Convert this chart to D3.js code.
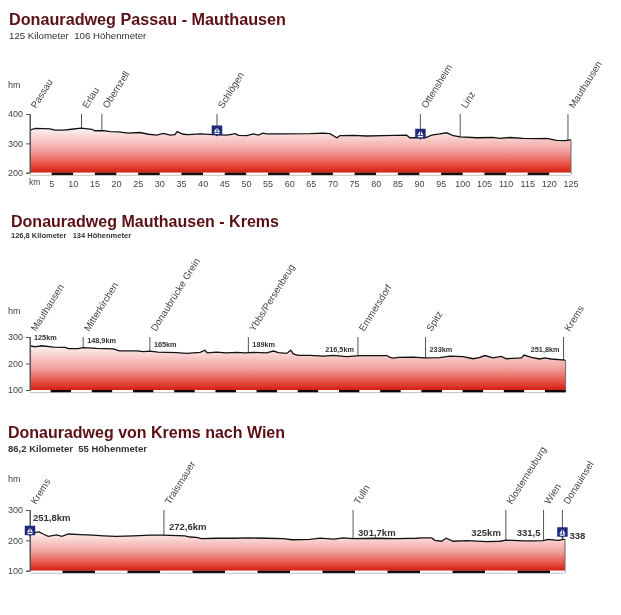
<!DOCTYPE html>
<html>
<head>
<meta charset="utf-8">
<script src="https://cdn.jsdelivr.net/npm/d3@7"></script>
<style>
	html, body { margin: 0; padding: 0; background: #fff; }
	text { font-family: "Liberation Sans", Arial, sans-serif; }
	#svg_profiles { filter: blur(0.3px); }
</style>
</head>
<body>
<svg id="svg_profiles" width="621" height="615"></svg>
<script>
// Passau - Mauthausen
var passauKm = [0, 1.2, 3.1, 4.6, 5.8, 7.7, 9.6, 11.8, 14.3, 15, 17, 18.5, 20.4, 22.7, 25.4, 27.4, 29.3, 30.8, 32.4, 33.5, 34, 35.4, 36.6, 39.3, 42.4, 45.5, 47.4, 48.2, 50.1, 51.6, 52.8, 53.8, 54.7, 59.3, 64.7, 67.8, 69.3, 70.9, 71.6, 74.7, 77.8, 81.6, 87, 87.8, 91.3, 92.8, 94.7, 96.3, 97.8, 99.4, 103.2, 107, 108.6, 110.9, 114, 117.1, 119.4, 121.7, 123.6, 125];
var passauHm = [345, 351, 350, 349, 345, 345, 348, 352, 348, 343, 343, 340, 339, 335, 337, 331, 328, 334, 328, 330, 340, 331, 330, 332, 330, 328, 333, 327, 326, 332, 328, 335, 332, 332, 333, 335, 333, 319, 326, 327, 325, 326, 328, 319, 319, 328, 332, 336, 326, 322, 319, 320, 317, 320, 317, 316, 317, 310, 309, 312];
var passauStops = ["Passau", "Erlau", "Obernzell", "Schlögen", "Ottensheim", "Linz", "Mauthausen"];
var passauStopKm = [0, 11.9, 16.6, 43.2, 90.2, 99.4, 124.3];
var passauBoatKm = [43.2, 90.2];
var passauBoatHm = [343, 332];
var passauTicks = [5, 10, 15, 20, 25, 30, 35, 40, 45, 50, 55, 60, 65, 70, 75, 80, 85, 90, 95, 100, 105, 110, 115, 120, 125];

// Mauthausen - Krems
var kremsKm = [125, 126.2, 127.8, 130.7, 133.5, 134.3, 136.7, 137.9, 141.2, 145.2, 146.7, 150.9, 152.5, 154.1, 156.1, 160.6, 163, 166.3, 167.5, 168, 170.3, 172.7, 175.2, 177.2, 179.2, 182.4, 184.1, 185.3, 187.3, 188.3, 188.9, 190.1, 193, 196.2, 198.7, 201.9, 205.1, 211.6, 212.4, 213.2, 214.4, 218, 220.8, 224.4, 226.9, 230.1, 232.6, 234.2, 235.4, 237.4, 239.4, 240.6, 244.3, 244.9, 246.7, 248.7, 249.9, 251.5, 254.9];
var kremsHm = [267, 263, 267, 262, 261, 256, 256, 260, 257, 255, 248, 248, 245, 247, 243, 241, 238, 242, 250, 240, 243, 240, 242, 240, 242, 240, 247, 241, 238, 250, 236, 231, 231, 228, 231, 226, 230, 230, 223, 220, 223, 224, 221, 222, 228, 226, 218, 223, 230, 221, 227, 218, 221, 232, 223, 217, 221, 217, 213];
var kremsStops = ["Mauthausen", "Mitterkirchen", "Donaubrücke Grein", "Ybbs/Persenbeug", "Emmersdorf", "Spitz", "Krems"];
var kremsStopKm = [125, 137.9, 154.1, 178, 204.6, 221, 254.5];
var kremsMarks = ["125km", "148,9km", "165km", "189km", "216,5km", "233km", "251,8km"];
var kremsMarkHm = [289, 277, 262, 262, 243, 243, 243];
var kremsMarkSide = ["start", "start", "start", "start", "end", "start", "end"];

// Krems - Wien
var wienKm = [0, 0.8, 1.4, 2.1, 2.8, 4.1, 4.9, 5.9, 7.7, 9.7, 11.3, 13.3, 15.9, 18.5, 20.4, 23.8, 24.6, 25.6, 26.4, 28.7, 31.3, 33.8, 36.4, 39, 40.3, 43.1, 44.6, 46.7, 48.2, 49.7, 53.3, 56.4, 59.5, 60.2, 61.8, 62.3, 63.3, 64, 65.1, 67.2, 70.3, 72.3, 73.3, 75.9, 77.4, 79, 79.6, 81.3, 82.1, 82.3];
var wienHm = [226, 226, 228, 220, 213, 218, 213, 221, 219, 217, 215, 213, 215, 217, 217, 215, 211, 210, 206, 207, 207, 208, 207, 206, 202, 203, 207, 204, 208, 206, 207, 206, 207, 208, 208, 200, 197, 207, 197, 199, 196, 197, 201, 198, 198, 199, 203, 200, 203, 203];
var wienStops = ["Krems", "Traismauer", "Tulln", "Klosterneuburg", "Wien", "Donauinsel"];
var wienStopKm = [0, 20.6, 49.7, 73.2, 79, 81.9];
var wienMarks = ["251,8km", "272,6km", "301,7km", "325km", "331,5", "338"];
var wienMarkHm = [264, 233, 214, 214, 214, 205];
var wienMarkSide = ["start", "start", "start", "end", "end", "start"];
var wienBoatKm = [0, 81.9];
var wienBoatHm = [231, 226];

var svg = d3.select("#svg_profiles");

function renderProfile(o) {
	var g = svg.append("g").attr("class", "profile");
	var xScale = d3.scaleLinear().domain(o.kmDomain).range(o.xRange);
	var yScale = d3.scaleLinear().domain(o.hmDomain).range(o.yRange);
	var base = o.yRange[0], top = o.yRange[1];

	g.append("text").attr("x", o.titleX).attr("y", o.titleY)
		.attr("font-size", 16).attr("font-weight", "bold").attr("fill", "#5a1014")
		.attr("textLength", o.titleLen).attr("lengthAdjust", "spacingAndGlyphs")
		.text(o.title);
	g.append("text").attr("x", o.titleX).attr("y", o.subY)
		.attr("font-size", o.subSize).attr("font-weight", o.subWeight).attr("fill", "#333")
		.style("white-space", "pre")
		.text(o.subtitle);
	g.append("text").attr("x", 8).attr("y", o.hmY)
		.attr("font-size", 9).attr("fill", "#444").text("hm");

	// stop lines sit under the area, only the top part stays visible
	g.selectAll("line.stop").data(o.stopKm).enter().append("line")
		.attr("class", "stop")
		.attr("x1", function(d) { return xScale(d); })
		.attr("x2", function(d) { return xScale(d); })
		.attr("y1", top).attr("y2", base)
		.attr("stroke", "#555").attr("stroke-width", 1);

	g.selectAll("text.stop").data(o.stops).enter().append("text")
		.attr("class", "stop")
		.attr("transform", function(d, i) {
			return "translate(" + (xScale(o.stopKm[i]) + 6) + "," + (top - 5) + ") rotate(-58)";
		})
		.attr("font-size", 9.7).attr("fill", "#444")
		.text(function(d) { return d; });

	var gradId = "fill_" + o.id;
	var grad = svg.append("defs").append("linearGradient").attr("id", gradId)
		.attr("gradientUnits", "userSpaceOnUse")
		.attr("x1", 0).attr("x2", 0)
		.attr("y1", yScale(d3.max(o.hm))).attr("y2", base);
	grad.append("stop").attr("offset", 0).attr("stop-color", "#fdf4f3");
	grad.append("stop").attr("offset", 0.5).attr("stop-color", "#f2a3a0");
	grad.append("stop").attr("offset", 0.85).attr("stop-color", "#e5463a");
	grad.append("stop").attr("offset", 1).attr("stop-color", "#cf1f10");

	var points = o.km.map(function(d, i) { return { km: d, hm: o.hm[i] }; });
	var area = d3.area()
		.x(function(d) { return xScale(d.km); })
		.y0(base)
		.y1(function(d) { return yScale(d.hm); });
	var line = d3.line()
		.x(function(d) { return xScale(d.km); })
		.y(function(d) { return yScale(d.hm); });

	g.append("path").attr("d", area(points)).attr("fill", "url(#" + gradId + ")");
	g.append("path").attr("d", line(points))
		.attr("fill", "none").attr("stroke", "#111").attr("stroke-width", 1.3);

	// right edge of the area
	g.append("line")
		.attr("x1", o.xRange[1]).attr("x2", o.xRange[1])
		.attr("y1", yScale(o.hm[o.hm.length - 1])).attr("y2", base + 2)
		.attr("stroke", "#666").attr("stroke-width", 1);

	// black and white strip along the bottom
	var segments = d3.range(o.kmDomain[0], o.kmDomain[1] - 0.01, 5);
	g.selectAll("rect.strip").data(segments).enter().append("rect")
		.attr("class", "strip")
		.attr("x", function(d) { return xScale(d); })
		.attr("y", base)
		.attr("width", function(d) { return xScale(Math.min(d + 5, o.kmDomain[1])) - xScale(d); })
		.attr("height", 2.4)
		.attr("fill", function(d, i) { return i % 2 == 0 ? "#fff" : "#0d0505"; });
	g.append("line")
		.attr("x1", o.xRange[0]).attr("x2", o.xRange[1])
		.attr("y1", base + 2.6).attr("y2", base + 2.6)
		.attr("stroke", "#999").attr("stroke-width", 0.6);

	var yAxis = d3.axisLeft(yScale).tickValues(o.hmTicks).tickSize(4).tickPadding(3).tickFormat(d3.format("d"));
	var gy = g.append("g").attr("transform", "translate(" + o.xRange[0] + ",0)").call(yAxis);
	gy.select(".domain").attr("stroke", "#555");
	gy.selectAll(".tick line").attr("stroke", "#555");
	gy.selectAll(".tick text").attr("font-size", 9).attr("fill", "#444").attr("font-family", null);

	if (o.ticks) {
		var xAxis = d3.axisBottom(xScale).tickValues(o.ticks).tickSize(0).tickPadding(6);
		var gx = g.append("g").attr("transform", "translate(-0.5," + (base + 2) + ")").call(xAxis);
		gx.select(".domain").remove();
		gx.selectAll(".tick text").attr("font-size", 9).attr("fill", "#444").attr("font-family", null);
		g.append("text").attr("x", 29).attr("y", base + 12.5)
			.attr("font-size", 8.5).attr("fill", "#444").text("km");
	}

	if (o.marks) {
		g.selectAll("text.mark").data(o.marks).enter().append("text")
			.attr("class", "mark")
			.attr("x", function(d, i) {
				var gap = o.markGap ? o.markGap[i] : 4;
				return xScale(o.stopKm[i]) + (o.markSide[i] == "end" ? -gap : gap);
			})
			.attr("y", function(d, i) { return yScale(o.markHm[i]); })
			.attr("text-anchor", function(d, i) { return o.markSide[i]; })
			.attr("font-size", o.markSize).attr("font-weight", "bold").attr("fill", "#333")
			.text(function(d) { return d; });
	}

	if (o.boatKm) {
		var boat = g.selectAll("g.boat").data(o.boatKm).enter().append("g")
			.attr("class", "boat")
			.attr("transform", function(d, i) {
				return "translate(" + xScale(d) + "," + yScale(o.boatHm[i]) + ")";
			});
		boat.append("path").attr("d", "M-5,-5L5,-5L5,4L1.5,4L0,5.5L-1.5,4L-5,4Z")
			.attr("fill", "#1f2a7c").attr("stroke", "#1f2a7c").attr("stroke-width", 0.5).attr("stroke-linejoin", "round");
		boat.append("path").attr("d", "M-0.5,-3L-0.5,1.2L-3,1.2ZM0.5,-3L3,1.2L0.5,1.2ZM-3,2L3,2L2,3.2L-2,3.2Z")
			.attr("fill", "#fff");
	}
}

renderProfile({
	id: "passau",
	title: "Donauradweg Passau - Mauthausen",
	subtitle: "125 Kilometer  106 Höhenmeter",
	titleX: 9, titleY: 25, titleLen: 277, subY: 39, subSize: 9.7, subWeight: "normal", hmY: 88,
	km: passauKm, hm: passauHm,
	kmDomain: [0, 125], hmDomain: [200, 400], hmTicks: [200, 300, 400],
	xRange: [30, 571], yRange: [172.7, 114],
	stops: passauStops, stopKm: passauStopKm,
	boatKm: passauBoatKm, boatHm: passauBoatHm,
	ticks: passauTicks
});

renderProfile({
	id: "krems",
	title: "Donauradweg Mauthausen - Krems",
	subtitle: "126,8 Kilometer   134 Höhenmeter",
	titleX: 11, titleY: 227, titleLen: 268, subY: 238, subSize: 7.5, subWeight: "bold", hmY: 314,
	km: kremsKm, hm: kremsHm,
	kmDomain: [125, 255], hmDomain: [100, 300], hmTicks: [100, 200, 300],
	xRange: [30, 565.6], yRange: [390, 337],
	stops: kremsStops, stopKm: kremsStopKm,
	marks: kremsMarks, markHm: kremsMarkHm, markSide: kremsMarkSide, markSize: 7.3
});

renderProfile({
	id: "wien",
	title: "Donauradweg von Krems nach Wien",
	subtitle: "86,2 Kilometer  55 Höhenmeter",
	titleX: 8, titleY: 438, titleLen: 277, subY: 452, subSize: 9.5, subWeight: "bold", hmY: 482,
	km: wienKm, hm: wienHm,
	kmDomain: [0, 82.3], hmDomain: [100, 300], hmTicks: [100, 200, 300],
	xRange: [30, 565], yRange: [570.7, 510],
	stops: wienStops, stopKm: wienStopKm,
	marks: wienMarks, markHm: wienMarkHm, markSide: wienMarkSide, markSize: 9.5, markGap: [3, 5, 5, 5, 3, 7],
	boatKm: wienBoatKm, boatHm: wienBoatHm
});
</script>
</body>
</html>
